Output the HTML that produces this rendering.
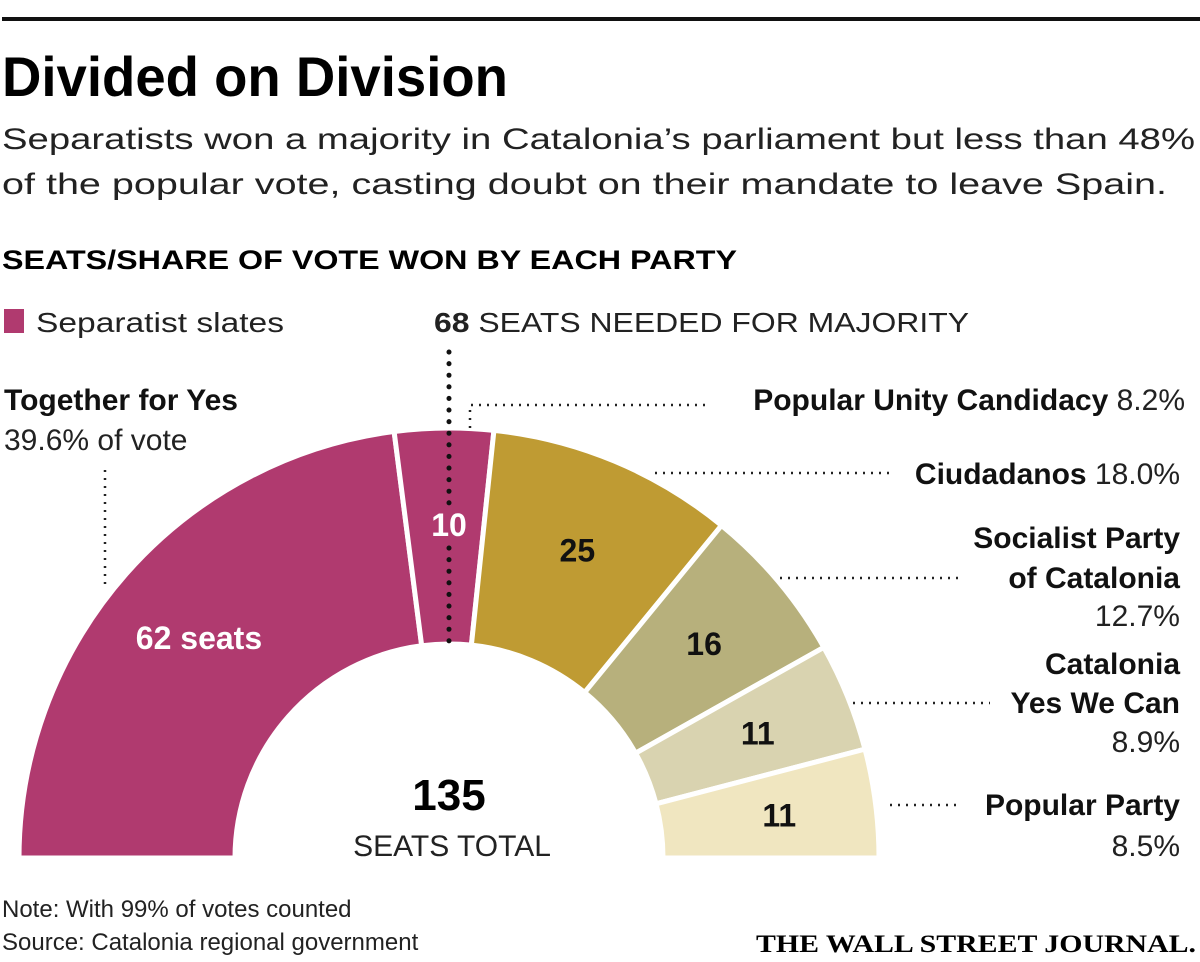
<!DOCTYPE html>
<html><head><meta charset="utf-8"><style>
html,body{margin:0;padding:0;background:#fff;}
svg{display:block;font-family:"Liberation Sans Narrow","Liberation Sans",sans-serif;}
</style></head><body>
<svg id="c" width="1200" height="962" viewBox="0 0 1200 962">
<rect x="2" y="17" width="1198" height="4" fill="#111"/>
<text x="2" y="96" font-size="56" font-weight="bold" textLength="506" lengthAdjust="spacingAndGlyphs">Divided on Division</text>
<text x="2" y="149" font-size="30" fill="#222" textLength="1193" lengthAdjust="spacingAndGlyphs">Separatists won a majority in Catalonia’s parliament but less than 48%</text>
<text x="2" y="194" font-size="30" fill="#222" textLength="1165" lengthAdjust="spacingAndGlyphs">of the popular vote, casting doubt on their mandate to leave Spain.</text>
<text x="2" y="269" font-size="27" font-weight="bold" textLength="735" lengthAdjust="spacingAndGlyphs">SEATS/SHARE OF VOTE WON BY EACH PARTY</text>
<rect x="4" y="309" width="20" height="24" fill="#b03a6f"/>
<text x="36" y="332" font-size="28" fill="#222" textLength="248" lengthAdjust="spacingAndGlyphs">Separatist slates</text>
<text x="434" y="332" font-size="28" fill="#222" textLength="535" lengthAdjust="spacingAndGlyphs"><tspan font-weight="bold">68</tspan> SEATS NEEDED FOR MAJORITY</text>
<g id="arcs"></g>
<g id="labels"></g>
<line x1="449" y1="352" x2="449" y2="505" stroke="#111" stroke-width="5" stroke-dasharray="0.1 11.5" stroke-linecap="round"/>
<line x1="449" y1="548" x2="449" y2="650" stroke="#111" stroke-width="5" stroke-dasharray="0.1 11.5" stroke-linecap="round"/>
<text x="449" y="810" font-size="44" font-weight="bold" text-anchor="middle">135</text>
<text x="452" y="856" font-size="30" text-anchor="middle" fill="#222">SEATS TOTAL</text>
<text x="2" y="917" font-size="24" fill="#222">Note: With 99% of votes counted</text>
<text x="2" y="950" font-size="24" fill="#222">Source: Catalonia regional government</text>
<text x="1196" y="952" font-size="25" text-anchor="end" font-family="Liberation Serif,serif" font-weight="bold" textLength="440" lengthAdjust="spacingAndGlyphs">THE WALL STREET JOURNAL.</text>
</svg>
<script>
const parties=["Together for Yes","Popular Unity Candidacy","Ciudadanos","Socialist Party of Catalonia","Catalonia Yes We Can","Popular Party"];
const seats=[62,10,25,16,11,11];
const votes=["39.6%","8.2%","18.0%","12.7%","8.9%","8.5%"];
const colors=["#b03a6f","#b03a6f","#bf9b33","#b7b07c","#d9d3b0","#f0e6c0"];
const NS="http://www.w3.org/2000/svg";
const cx=449,cy=858,R=430,r=214,LR=333;
const total=seats.reduce((a,b)=>a+b,0);
function ang(v){return Math.PI-(v/total)*Math.PI;}
function pt(a,rad){return [cx+rad*Math.cos(a),cy-rad*Math.sin(a)];}
const g=document.getElementById('arcs');
let acc=0;
seats.forEach((s,i)=>{
  const a0=ang(acc),a1=ang(acc+s);acc+=s;
  const p0=pt(a0,R),p1=pt(a1,R),p2=pt(a1,r),p3=pt(a0,r);
  const p=document.createElementNS(NS,'path');
  p.setAttribute('d',`M${p0} A${R},${R} 0 0 1 ${p1} L${p2} A${r},${r} 0 0 0 ${p3}Z`);
  p.setAttribute('fill',colors[i]);p.setAttribute('stroke','#fff');p.setAttribute('stroke-width','5');
  
  
  g.appendChild(p);
  let am=(a0+a1)/2;
  if(i==1) am=Math.PI/2;
  const [tx,ty]=pt(am,LR);
  const t=document.createElementNS(NS,'text');
  t.setAttribute('x',tx);t.setAttribute('y',ty+11);t.setAttribute('text-anchor','middle');
  t.setAttribute('font-size','32');t.setAttribute('font-weight','bold');
  t.setAttribute('fill',i<2?'#fff':'#111');
  t.textContent=i==0?s+' seats':s;
  
  
  g.appendChild(t);
});
const L=document.getElementById('labels');
function txt(x,y,html,anchor,name){const t=document.createElementNS(NS,'text');t.setAttribute('x',x);t.setAttribute('y',y);t.setAttribute('font-size','30');t.setAttribute('fill','#222');t.setAttribute('text-anchor',anchor);t.innerHTML=html;


L.appendChild(t);}
function dots(d,name){const p=document.createElementNS(NS,'path');p.setAttribute('d',d);p.setAttribute('fill','none');p.setAttribute('stroke','#222');p.setAttribute('stroke-width','2.5');p.setAttribute('stroke-dasharray','2 6');


L.appendChild(p);}
txt(4,410,'<tspan font-weight="bold" fill="#111">'+parties[0]+'</tspan>','start','label-together-for-yes');
txt(4,450,votes[0]+' of vote','start','vote-together-for-yes');
dots('M105 470 V585','leader-together-for-yes');
txt(1185,410,'<tspan font-weight="bold" fill="#111">'+parties[1]+'</tspan> '+votes[1],'end','label-cup');
dots('M470 428 V405 H710','leader-cup');
txt(1180,484,'<tspan font-weight="bold" fill="#111">'+parties[2]+'</tspan>  '+votes[2],'end','label-ciudadanos');
dots('M655 473 H890','leader-ciudadanos');
txt(1180,548,'<tspan font-weight="bold" fill="#111">Socialist Party</tspan>','end','label-psc-1');
txt(1180,588,'<tspan font-weight="bold" fill="#111">of Catalonia</tspan>','end','label-psc-2');
txt(1180,626,votes[3],'end','vote-psc');
dots('M780 578 H960','leader-psc');
txt(1180,674,'<tspan font-weight="bold" fill="#111">Catalonia</tspan>','end','label-csqp-1');
txt(1180,713,'<tspan font-weight="bold" fill="#111">Yes We Can</tspan>','end','label-csqp-2');
txt(1180,752,votes[4],'end','vote-csqp');
dots('M853 703 H990','leader-csqp');
txt(1180,815,'<tspan font-weight="bold" fill="#111">'+parties[5]+'</tspan>','end','label-pp');
txt(1180,856,votes[5],'end','vote-pp');
dots('M890 805 H960','leader-pp');
</script>
</body></html>
